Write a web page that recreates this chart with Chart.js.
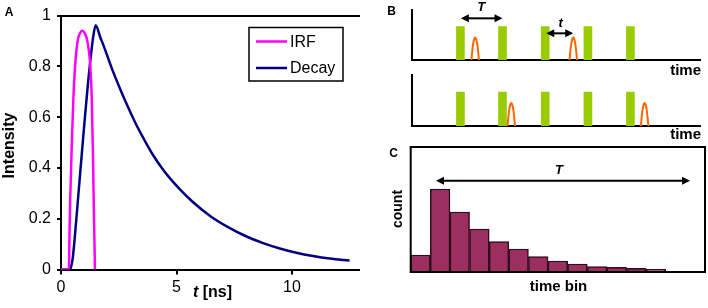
<!DOCTYPE html>
<html>
<head>
<meta charset="utf-8">
<script src="https://cdn.jsdelivr.net/npm/chart.js@4.4.1/dist/chart.umd.min.js"></script>
<style>
  html, body { margin: 0; padding: 0; background: #fff; }
  #wrap { position: relative; width: 708px; height: 308px; overflow: hidden; background: #fff; }
  canvas { position: absolute; }
</style>
</head>
<body>
<div id="wrap">
  <canvas id="cA" width="365" height="308" style="left:0;top:0"></canvas>
  <canvas id="cB1" width="323" height="80" style="left:385px;top:0"></canvas>
  <canvas id="cB2" width="323" height="80" style="left:385px;top:66px"></canvas>
  <canvas id="cC" width="323" height="168" style="left:385px;top:140px"></canvas>
</div>
<script>
// ---------------- DATA ----------------
// Panel A: instrument response function and fluorescence decay (t in ns, normalised intensity)
const irfTime      = [0.0, 0.34, 0.37, 0.40, 0.46, 0.53, 0.61, 0.72, 0.82, 0.92, 1.03, 1.14, 1.27, 1.33, 1.38, 1.42, 1.45, 1.47];
const irfIntensity = [0.0, 0.0, 0.15, 0.28, 0.47, 0.66, 0.80, 0.90, 0.93, 0.94, 0.93, 0.90, 0.80, 0.68, 0.47, 0.25, 0.10, 0.0];

const decayTime      = [0.0, 0.39, 0.50, 0.60, 0.72, 0.96, 1.21, 1.40, 1.50, 1.70, 1.90, 2.20, 2.55, 2.90, 3.27, 3.60, 3.99, 4.35, 4.71, 5.20, 5.72, 6.50, 7.31, 8.03, 8.75, 9.47, 10.19, 10.91, 11.63, 12.49];
const decayIntensity = [0.0, 0.0, 0.04, 0.13, 0.26, 0.52, 0.77, 0.92, 0.962, 0.915, 0.868, 0.792, 0.713, 0.640, 0.568, 0.512, 0.450, 0.402, 0.360, 0.311, 0.265, 0.208, 0.163, 0.130, 0.104, 0.083, 0.066, 0.053, 0.043, 0.035];

// Panel B: laser pulses and detected photons (time in units where the period T = 10)
const laserPulseTimes   = [5.8, 15.7, 25.75, 35.8, 45.8];
const laserPulseHeight  = 1.0;
const photonTimesTop    = [9.27, 32.35];
const photonTimesBottom = [17.76, 49.14];
const photonShapeDx     = [-0.88, -0.66, -0.44, -0.22, 0, 0.22, 0.44, 0.66, 0.88];
const photonShapeY      = [0, 0.30, 0.51, 0.63, 0.675, 0.63, 0.51, 0.30, 0];

// Panel C: histogram of photon arrival times
const binLabels = ['', '', '', '', '', '', '', '', '', '', '', '', '', '', ''];
const binCounts = [17, 83, 60, 43, 30.5, 23, 15.5, 11, 8, 5.5, 4.7, 3.7, 2.7, 0, 0];

// ---------------- HELPERS ----------------
const FAM = '"Liberation Sans", Arial, Helvetica, sans-serif';

function drawArrow(ctx, x1, y, x2) {
  const hl = 8, hw = 4;
  ctx.save();
  ctx.strokeStyle = '#000'; ctx.fillStyle = '#000'; ctx.lineWidth = 2;
  ctx.beginPath(); ctx.moveTo(x1 + hl - 1, y); ctx.lineTo(x2 - hl + 1, y); ctx.stroke();
  ctx.beginPath(); ctx.moveTo(x1, y); ctx.lineTo(x1 + hl, y - hw); ctx.lineTo(x1 + hl, y + hw); ctx.closePath(); ctx.fill();
  ctx.beginPath(); ctx.moveTo(x2, y); ctx.lineTo(x2 - hl, y - hw); ctx.lineTo(x2 - hl, y + hw); ctx.closePath(); ctx.fill();
  ctx.restore();
}

function drawText(ctx, t) {
  ctx.save();
  ctx.fillStyle = '#000';
  ctx.font = t.font;
  ctx.textBaseline = 'middle';
  ctx.textAlign = t.align || 'center';
  ctx.translate(t.x, t.y);
  if (t.rotate) ctx.rotate(t.rotate);
  ctx.fillText(t.text, 0, 0);
  ctx.restore();
}

const textPlugin = {
  id: 'texts',
  afterDraw(chart, args, opts) {
    const ctx = chart.ctx;
    (opts.items || []).forEach(t => drawText(ctx, t));
    (opts.arrows || []).forEach(a => {
      const xs = chart.scales.x, ys = chart.scales.y;
      drawArrow(ctx, xs.getPixelForValue(a.from), ys.getPixelForValue(a.y), xs.getPixelForValue(a.to));
    });
    (opts.dataLabels || []).forEach(l => {
      const xs = chart.scales.x, ys = chart.scales.y;
      drawText(ctx, { text: l.text, font: l.font, x: xs.getPixelForValue(l.x), y: ys.getPixelForValue(l.y) });
    });
  }
};

// ---------------- PANEL A ----------------
const legendPlugin = {
  id: 'boxLegend',
  afterDraw(chart) {
    const ctx = chart.ctx;
    const bx = 249, by = 27.5, bw = 94, bh = 53.5;
    ctx.save();
    ctx.strokeStyle = '#000'; ctx.lineWidth = 1.5;
    ctx.strokeRect(bx, by, bw, bh);
    chart.data.datasets.forEach((ds, i) => {
      const y = by + 14 + i * 26.5;
      ctx.strokeStyle = ds.borderColor; ctx.lineWidth = 2.5;
      ctx.beginPath(); ctx.moveTo(bx + 7, y); ctx.lineTo(bx + 38, y); ctx.stroke();
      ctx.fillStyle = '#000'; ctx.font = '16px ' + FAM; ctx.textBaseline = 'middle'; ctx.textAlign = 'left';
      ctx.fillText(ds.label, bx + 41, y + 1);
    });
    ctx.restore();
  }
};

const axisTitlePlugin = {
  id: 'axisTitleA',
  afterDraw(chart) {
    const ctx = chart.ctx;
    drawText(ctx, { text: 'Intensity', font: 'bold 16px ' + FAM, x: 9.5, y: 145.5, rotate: -Math.PI / 2 });
    drawText(ctx, { text: 'A', font: 'bold 12px ' + FAM, x: 9, y: 13 });
    ctx.save();
    ctx.fillStyle = '#000'; ctx.textBaseline = 'middle'; ctx.textAlign = 'left';
    ctx.font = 'italic bold 16px ' + FAM; const w1 = ctx.measureText('t').width;
    ctx.font = 'bold 16px ' + FAM; const w2 = ctx.measureText(' [ns]').width;
    const x0 = 212.5 - (w1 + w2) / 2, y0 = 293;
    ctx.font = 'italic bold 16px ' + FAM; ctx.fillText('t', x0, y0);
    ctx.font = 'bold 16px ' + FAM; ctx.fillText(' [ns]', x0 + w1, y0);
    ctx.restore();
  }
};

new Chart(document.getElementById('cA'), {
  type: 'line',
  data: {
    datasets: [
      { label: 'IRF', data: irfTime.map((t, i) => ({ x: t, y: irfIntensity[i] })),
        borderColor: '#ff00ff', borderWidth: 2.5, pointRadius: 0, fill: false, cubicInterpolationMode: 'monotone' },
      { label: 'Decay', data: decayTime.map((t, i) => ({ x: t, y: decayIntensity[i] })),
        borderColor: '#000080', borderWidth: 2.5, pointRadius: 0, fill: false, cubicInterpolationMode: 'monotone' }
    ]
  },
  options: {
    responsive: false, animation: false, devicePixelRatio: 1,
    layout: { padding: { left: 0, top: 10, right: 6, bottom: 0 } },
    plugins: { legend: { display: false }, tooltip: { enabled: false } },
    scales: {
      x: {
        type: 'linear', min: 0, max: 12.9,
        ticks: { stepSize: 5, includeBounds: false, maxRotation: 0, color: '#000', padding: 3, font: { size: 16, family: FAM } },
        grid: { display: true, drawOnChartArea: false, drawTicks: true, tickLength: 5, color: '#000', lineWidth: 2 },
        border: { display: true, color: '#000', width: 2 },
        afterFit: s => { s.height = 38.5; }
      },
      x2: {
        type: 'linear', position: 'top', min: 0, max: 12.9,
        ticks: { display: false }, grid: { display: false },
        border: { display: true, color: '#000', width: 2 },
        afterFit: s => { s.height = 0; }
      },
      y: {
        min: 0, max: 1,
        ticks: { stepSize: 0.2, color: '#000', padding: 6, font: { size: 16, family: FAM },
                 callback: v => String(Math.round(v * 10) / 10) },
        grid: { display: true, drawOnChartArea: false, drawTicks: true, tickLength: 4, color: '#000', lineWidth: 2 },
        border: { display: true, color: '#000', width: 2 },
        afterFit: s => { s.width = 61; }
      }
    }
  },
  plugins: [legendPlugin, axisTitlePlugin]
});

// ---------------- PANEL B ----------------
function makeB(id, photonTimes, padTop, extra) {
  const datasets = [{
    type: 'bar', label: 'laser',
    data: laserPulseTimes.map(t => ({ x: t, y: laserPulseHeight })),
    backgroundColor: '#99cc00', barThickness: 8, grouped: false, borderWidth: 0
  }];
  photonTimes.forEach(c => {
    datasets.push({
      type: 'line', label: 'photon',
      data: photonShapeDx.map((d, i) => ({ x: c + d, y: photonShapeY[i] })),
      borderColor: '#ff6600', borderWidth: 2, pointRadius: 0, fill: false, cubicInterpolationMode: 'monotone'
    });
  });
  return new Chart(document.getElementById(id), {
    type: 'bar',
    data: { datasets },
    options: {
      responsive: false, animation: false, devicePixelRatio: 1,
      layout: { padding: { left: 26.7, top: padTop, right: 7.3, bottom: 20 } },
      plugins: { legend: { display: false }, tooltip: { enabled: false }, texts: extra },
      scales: {
        x: { type: 'linear', min: 0, max: 56.67, ticks: { display: false }, grid: { display: false },
             border: { display: true, color: '#000', width: 2 }, afterFit: s => { s.height = 0; } },
        y: { min: 0, max: 1.5, ticks: { display: false }, grid: { display: false },
             border: { display: true, color: '#000', width: 2 }, afterFit: s => { s.width = 0; } }
      }
    },
    plugins: [textPlugin]
  });
}

makeB('cB1', photonTimesTop, 10, {
  items: [
    { text: 'B', font: 'bold 12px ' + FAM, x: 6.7, y: 12 },
    { text: 'time', font: 'bold 15px ' + FAM, x: 316, y: 71, align: 'right' }
  ],
  arrows: [ { from: 5.9, to: 15.7, y: 1.25 }, { from: 26.0, to: 32.35, y: 0.8 } ],
  dataLabels: [
    { text: 'T', font: 'italic bold 13px ' + FAM, x: 10.7, y: 1.58 },
    { text: 't', font: 'italic bold 13px ' + FAM, x: 29.4, y: 1.1 }
  ]
});

makeB('cB2', photonTimesBottom, 9, {
  items: [ { text: 'time', font: 'bold 15px ' + FAM, x: 316, y: 69, align: 'right' } ]
});

// ---------------- PANEL C ----------------
const framePlugin = {
  id: 'frame',
  afterDraw(chart) {
    const { ctx, chartArea: a } = chart;
    ctx.save();
    ctx.strokeStyle = '#000'; ctx.lineWidth = 2;
    ctx.strokeRect(a.left, a.top, a.right - a.left, a.bottom - a.top);
    ctx.restore();
  }
};

new Chart(document.getElementById('cC'), {
  type: 'bar',
  data: {
    labels: binLabels,
    datasets: [{
      label: 'count', data: binCounts,
      backgroundColor: '#9c2f5f', borderColor: '#2e0d1c', borderWidth: 1.5, borderSkipped: false,
      categoryPercentage: 1, barPercentage: 1
    }]
  },
  options: {
    responsive: false, animation: false, devicePixelRatio: 1,
    layout: { padding: { left: 25.7, top: 7, right: 3, bottom: 36 } },
    plugins: {
      legend: { display: false }, tooltip: { enabled: false },
      texts: {
        items: [
          { text: 'C', font: 'bold 12px ' + FAM, x: 8.5, y: 13.5 },
          { text: 'count', font: 'bold 14px ' + FAM, x: 13, y: 69, rotate: -Math.PI / 2 },
          { text: 'time bin', font: 'bold 15px ' + FAM, x: 173.5, y: 146.5 }
        ],
        arrows: [ { from: 0.79, to: 13.74, y: 91.3 } ],
        dataLabels: [ { text: 'T', font: 'italic bold 13px ' + FAM, x: 7.06, y: 102 } ]
      }
    },
    scales: {
      x: { display: false },
      y: { display: false, min: 0, max: 125 }
    }
  },
  plugins: [textPlugin, framePlugin]
});
</script>
</body>
</html>
